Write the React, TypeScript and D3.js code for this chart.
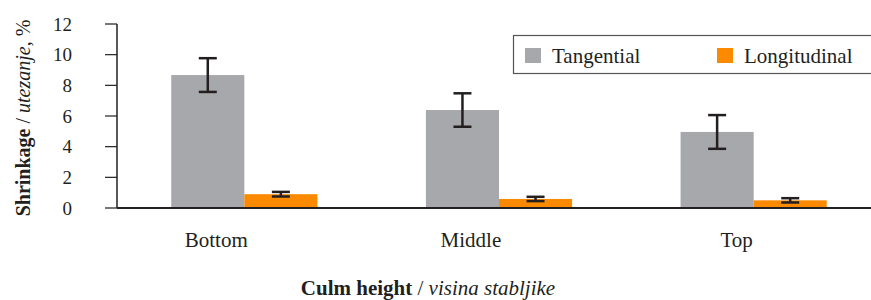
import React from 'react';
import * as d3 from 'd3';

const categories = ['Bottom', 'Middle', 'Top'];
const series = ['Tangential', 'Longitudinal'];
const tangential = [8.67, 6.39, 4.96];
const tangentialErr = [1.1, 1.09, 1.1];
const longitudinal = [0.9, 0.59, 0.5];
const longitudinalErr = [0.15, 0.14, 0.14];
const yTicks = [0, 2, 4, 6, 8, 10, 12];

const colors = ['#a7a8ac', '#fb8a00'];
const W = 871;
const H = 300;
const font = 'Liberation Serif, Times New Roman, serif';

const App = () => {
  const left = 117;
  const top = 24;
  const bottom = 208;

  const x0 = d3.scaleBand().domain(categories).range([left, 881]).paddingInner(0.426).paddingOuter(0.213);
  const x1 = d3.scaleBand().domain(series).range([0, x0.bandwidth()]);
  const y = d3.scaleLinear().domain([0, 12]).range([bottom, top]);

  const rows = categories.map((c, i) => ({
    cat: c,
    vals: [
      { key: series[0], v: tangential[i], e: tangentialErr[i] },
      { key: series[1], v: longitudinal[i], e: longitudinalErr[i] },
    ],
  }));

  return (
    <svg width={W} height={H} fontFamily={font} style={{ position: 'absolute', left: 0, top: 0 }}>
      <rect width={W} height={H} fill="#fff" />
      {rows.map((r) => (
        <g key={r.cat} transform={`translate(${x0(r.cat)},0)`}>
          {r.vals.map((d, j) => (
            <rect key={d.key} x={x1(d.key)} y={y(d.v)} width={x1.bandwidth()} height={y(0) - y(d.v)} fill={colors[j]} />
          ))}
          {r.vals.map((d) => {
            const cx = (x1(d.key) as number) + x1.bandwidth() / 2;
            return (
              <g key={d.key + 'e'} stroke="#231f20" strokeWidth={2.5}>
                <line x1={cx} x2={cx} y1={y(d.v + d.e)} y2={y(d.v - d.e)} />
                <line x1={cx - 9} x2={cx + 9} y1={y(d.v + d.e)} y2={y(d.v + d.e)} />
                <line x1={cx - 9} x2={cx + 9} y1={y(d.v - d.e)} y2={y(d.v - d.e)} />
              </g>
            );
          })}
          <text x={r.cat === 'Top' ? 56 : 45} y={247} textAnchor="middle" fontSize={21} fill="#231f20">{r.cat}</text>
        </g>
      ))}

      {/* axes */}
      <line x1={left} x2={left} y1={y(12)} y2={bottom} stroke="#231f20" strokeWidth={1.5} />
      {yTicks.map((t) => (
        <g key={t}>
          <line x1={left - 12} x2={left} y1={y(t)} y2={y(t)} stroke="#231f20" strokeWidth={1.2} />
          <text x={72} y={y(t)} dy="0.35em" textAnchor="end" fontSize={19} fill="#231f20">{t}</text>
        </g>
      ))}
      <line x1={left} x2={W} y1={bottom} y2={bottom} stroke="#231f20" strokeWidth={2} />

      {/* legend */}
      <rect x={513.5} y={35.5} width={370} height={38} fill="#fff" stroke="#555" strokeWidth={1.2} />
      {series.map((s, i) => (
        <g key={s} transform={`translate(${525 + i * 192},48)`}>
          <rect width={16} height={15} fill={colors[i]} />
          <text x={27} y={15} fontSize={21} fill="#231f20">{s}</text>
        </g>
      ))}

      {/* axis titles */}
      <text x={428} y={295} textAnchor="middle" fontSize={21} fill="#231f20">
        <tspan fontWeight="bold">Culm height</tspan>
        <tspan> / </tspan>
        <tspan fontStyle="italic">visina stabljike</tspan>
      </text>
      <text transform={`translate(30,118) rotate(-90)`} textAnchor="middle" fontSize={20} fill="#231f20">
        <tspan fontWeight="bold">Shrinkage</tspan>
        <tspan> / </tspan>
        <tspan fontStyle="italic">utezanje</tspan>
        <tspan>, %</tspan>
      </text>
    </svg>
  );
};

export default App;
